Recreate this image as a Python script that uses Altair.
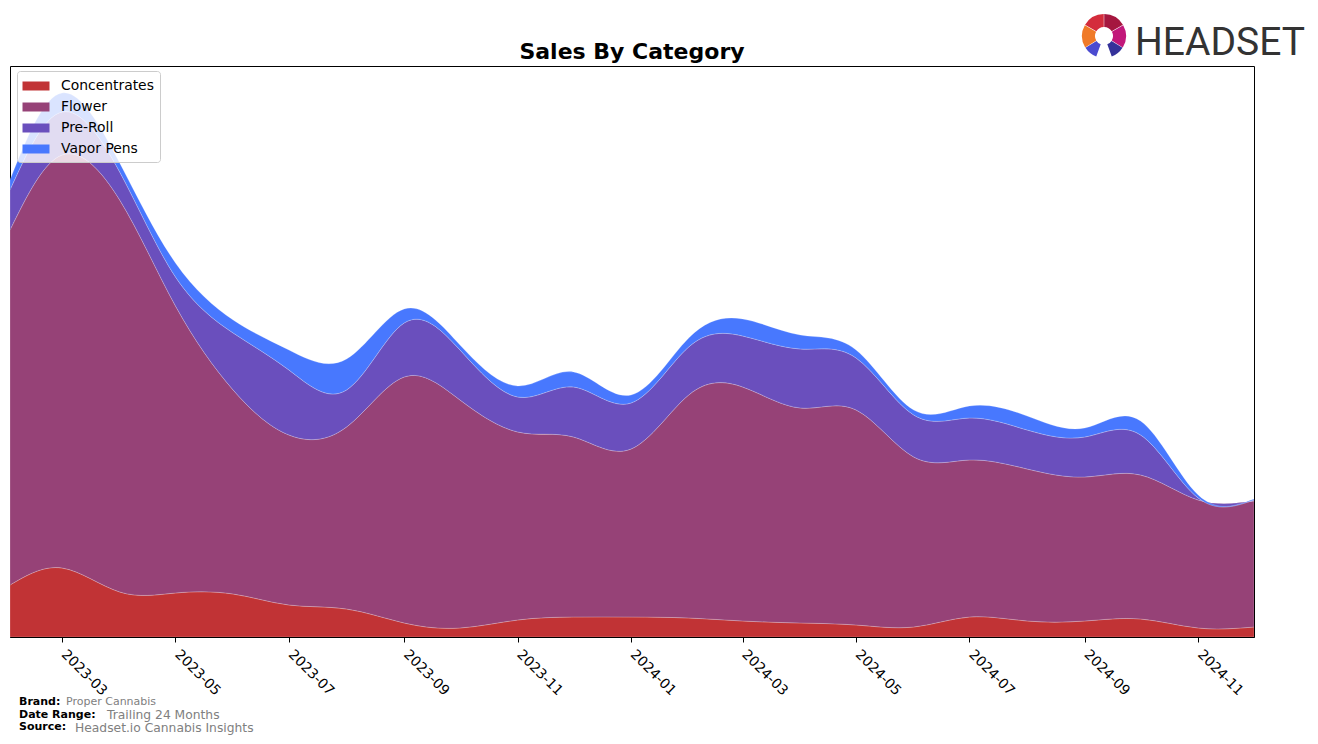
import altair as alt
import pandas as pd

# ---------------- data ----------------
months = ["2023-02", "2023-03", "2023-04", "2023-05", "2023-06", "2023-07", "2023-08",
          "2023-09", "2023-10", "2023-11", "2023-12", "2024-01", "2024-02", "2024-03",
          "2024-04", "2024-05", "2024-06", "2024-07", "2024-08", "2024-09", "2024-10",
          "2024-11", "2024-12"]
categories = ["Concentrates", "Flower", "Pre-Roll", "Vapor Pens"]
concentrates = [52, 69, 45, 44, 43, 32, 28, 14, 9, 17, 20, 20, 19, 16, 14, 12, 10, 20, 16, 16, 18, 9, 10]
flower = [355, 413, 392, 287, 204, 170, 182, 246, 228, 188, 180, 168, 223, 234, 215, 215, 170, 157, 152, 144, 144, 128, 126]
pre_roll = [40, 43, 28, 29, 57, 65, 37, 54, 50, 35, 50, 46, 48, 51, 59, 52, 42, 42, 39, 40, 40, 2, 1]
vapor_pens = [10, 19, 9, 14, 13, 20, 31, 14, 5, 11, 15, 8, 9, 17, 14, 8, 5, 12, 14, 9, 14, 3, 1]
tick_months = ["2023-03", "2023-05", "2023-07", "2023-09", "2023-11", "2024-01",
               "2024-03", "2024-05", "2024-07", "2024-09", "2024-11"]
colors = ["#C13335", "#964277", "#6A4FBD", "#4878FE"]

series = {"Concentrates": concentrates, "Flower": flower, "Pre-Roll": pre_roll, "Vapor Pens": vapor_pens}
rows = []
for i, m in enumerate(months):
    for k, cat in enumerate(categories):
        rows.append({"month": m + "-01T00:00:00", "category": cat,
                     "value": series[cat][i], "order": k})
df = pd.DataFrame(rows)


def dt(s):
    y, m = s.split("-")
    return alt.DateTime(year=int(y), month=int(m), date=1)


W, H = 1244, 571
FONT = "DejaVu Sans"

area = alt.Chart(df).mark_area(
    interpolate="natural", clip=True, stroke="white", strokeWidth=0.6, strokeOpacity=0.35
).encode(
    x=alt.X("month:T",
            scale=alt.Scale(domain=[dt(months[0]), dt(months[-1])], nice=False),
            axis=alt.Axis(values=[dt(t) for t in tick_months], format="%Y-%m",
                          labelAngle=45, labelAlign="left", labelBaseline="top",
                          labelOffset=6, labelPadding=5, tickSize=5, tickColor="black",
                          domainColor="black", labelColor="black", labelFontSize=13.9,
                          labelFont=FONT, grid=False, title=None, labelOverlap=False)),
    y=alt.Y("value:Q", stack="zero",
            scale=alt.Scale(domain=[0, 571], nice=False, zero=True), axis=None),
    color=alt.Color("category:N", scale=alt.Scale(domain=categories, range=colors),
                    legend=alt.Legend(title=None, orient="none", legendX=7, legendY=5,
                                      direction="vertical", labelFont=FONT,
                                      labelFontSize=13.9, labelColor="black",
                                      symbolType="M-1.5,-0.5H1.5V0.5H-1.5Z",
                                      symbolSize=324, symbolStrokeWidth=0, symbolOpacity=1,
                                      symbolOffset=4,
                                      padding=6, rowPadding=5, labelOffset=16,
                                      fillColor="rgba(255,255,255,0.8)",
                                      strokeColor="#cccccc", cornerRadius=3)),
    order=alt.Order("order:Q", sort="ascending"),
)

one = pd.DataFrame({"k": [0]})


def txt(text, x, y, size, weight="normal", color="black", align="left", font=FONT, baseline="middle"):
    return alt.Chart(one).mark_text(
        text=text, fontSize=size, fontWeight=weight, color=color, align=align,
        baseline=baseline, font=font
    ).encode(x=alt.value(x), y=alt.value(y))


title = txt("Sales By Category", W / 2, -14, 22, weight="bold", align="center")
brand_l = txt("Brand:", 9, 636, 11, weight="bold")
brand_v = txt("Proper Cannabis", 56, 636, 11, color="#808080")
range_l = txt("Date Range:", 9, 649, 11, weight="bold")
range_v = txt("Trailing 24 Months", 97, 648.5, 12.3, color="#808080")
source_l = txt("Source:", 9, 661, 11, weight="bold")
source_v = txt("Headset.io Cannabis Insights", 65, 661.5, 12.3, color="#808080")
logo_text = txt("HEADSET", 1125, -11, 39, color="#333333",
                font="Roboto", baseline="alphabetic")

deg = 3.14159265 / 180.0
seg_specs = [(300, 360, "#D42C3C"), (0, 60, "#A5173F"), (60, 122, "#C2187A"),
             (122, 160, "#35329A"), (200, 238, "#4B4BD0"), (238, 300, "#F07A28")]
logo_arcs = [
    alt.Chart(one).mark_arc(theta=a * deg, theta2=b * deg, innerRadius=9, outerRadius=22,
                            color=c, padAngle=0.02)
    .encode(x=alt.value(1094), y=alt.value(-30))
    for a, b, c in seg_specs
]

chart = alt.layer(
    area, title, brand_l, brand_v, range_l, range_v, source_l, source_v, logo_text, *logo_arcs
).properties(
    width=W, height=H,
    padding={"left": 2, "top": 58, "right": 56, "bottom": 99},
    autosize=alt.AutoSizeParams(type="none"),
    background="white",
).configure_view(stroke="black", strokeWidth=1)

chart.save("out.html", embed_options={"renderer": "svg", "actions": False})
